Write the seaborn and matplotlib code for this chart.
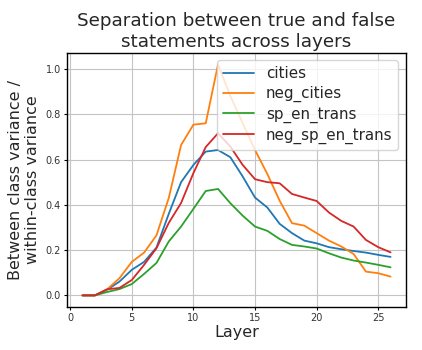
import numpy as np
import pandas as pd
import matplotlib
matplotlib.use("Agg")
import matplotlib.pyplot as plt
import seaborn as sns

layers = list(range(1, 27))
cities = [0.0, 0.0, 0.025, 0.061, 0.113, 0.148, 0.211, 0.36, 0.50, 0.576, 0.635, 0.642,
          0.61, 0.525, 0.432, 0.388, 0.316, 0.275, 0.242, 0.23, 0.213, 0.204, 0.196,
          0.189, 0.179, 0.17]
neg_cities = [0.0, 0.0, 0.027, 0.076, 0.148, 0.189, 0.265, 0.43, 0.664, 0.754, 0.76, 1.02,
              0.88, 0.76, 0.642, 0.536, 0.418, 0.319, 0.308, 0.275, 0.242, 0.216, 0.183,
              0.105, 0.098, 0.083]
sp_en_trans = [0.0, 0.0, 0.015, 0.028, 0.05, 0.095, 0.143, 0.238, 0.304, 0.382, 0.461, 0.47,
               0.407, 0.352, 0.304, 0.285, 0.249, 0.223, 0.216, 0.207, 0.186, 0.167, 0.154,
               0.145, 0.135, 0.124]
neg_sp_en_trans = [0.0, 0.0, 0.027, 0.033, 0.068, 0.135, 0.208, 0.32, 0.408, 0.54, 0.655,
                   0.716, 0.657, 0.576, 0.513, 0.5, 0.495, 0.448, 0.432, 0.417, 0.366, 0.329,
                   0.304, 0.245, 0.213, 0.19]

series_names = ["cities", "neg_cities", "sp_en_trans", "neg_sp_en_trans"]
series_values = [cities, neg_cities, sp_en_trans, neg_sp_en_trans]

df = pd.DataFrame({
    "Layer": layers * len(series_names),
    "value": [v for vals in series_values for v in vals],
    "dataset": [name for name in series_names for _ in layers],
})

sns.set_style("whitegrid", {
    "axes.edgecolor": "black",
    "grid.color": "#c4c4c4",
    "xtick.bottom": True,
    "ytick.left": True,
})

fig = plt.figure(figsize=(4.22, 3.5), dpi=100)
ax = fig.add_axes([0.159, 0.123, 0.803, 0.726])

sns.lineplot(data=df, x="Layer", y="value", hue="dataset",
             palette=["#1f77b4", "#ff7f0e", "#2ca02c", "#d62728"],
             linewidth=1.3, ax=ax)

ax.set_xticks([0, 5, 10, 15, 20, 25])
ax.set_yticks([0.0, 0.2, 0.4, 0.6, 0.8, 1.0])
ax.tick_params(labelsize=7, length=2.5, width=0.8, pad=2, colors="black")
ax.tick_params(axis="x", labelcolor="#333333")
ax.tick_params(axis="y", labelcolor="#333333")
ax.set_xlabel("Layer", fontsize=11.5, labelpad=1)
ax.set_ylabel("Between class variance /\nwithin-class variance", fontsize=11.5, labelpad=4)
ax.set_title("Separation between true and false\nstatements across layers", fontsize=13.2, pad=4)
for s in ax.spines.values():
    s.set_linewidth(1.0)

ax.legend(title=None, fontsize=10.9, loc="upper right", framealpha=0.8,
          labelspacing=0.3)

fig.savefig("out.png", dpi=100)
